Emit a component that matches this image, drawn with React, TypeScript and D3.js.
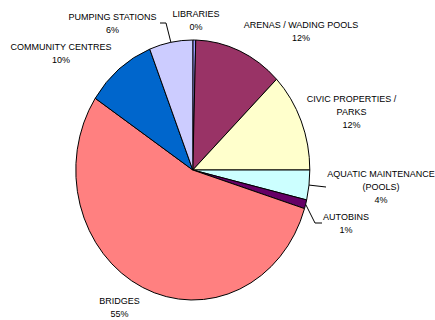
import React from 'react';
import * as d3 from 'd3';

// ---- data ----
const categories = [
  'LIBRARIES',
  'ARENAS / WADING POOLS',
  'CIVIC PROPERTIES / PARKS',
  'AQUATIC MAINTENANCE (POOLS)',
  'AUTOBINS',
  'BRIDGES',
  'COMMUNITY CENTRES',
  'PUMPING STATIONS',
];
const values = [0.4, 12.3, 12.3, 3.7, 1.1, 54.5, 9.7, 6.0];
const percentLabels = ['0%', '12%', '12%', '4%', '1%', '55%', '10%', '6%'];
const labelLines = [
  ['LIBRARIES'],
  ['ARENAS / WADING POOLS'],
  ['CIVIC PROPERTIES /', 'PARKS'],
  ['AQUATIC MAINTENANCE', '(POOLS)'],
  ['AUTOBINS'],
  ['BRIDGES'],
  ['COMMUNITY CENTRES'],
  ['PUMPING STATIONS'],
];

// ---- styles / layout ----
const colors = ['#9999FF', '#993366', '#FFFFCC', '#CCFFFF', '#660066', '#FF8080', '#0066CC', '#CCCCFF'];
const W = 435;
const H = 320;
const cx = 192.8;
const cy = 170;
const rx = 117;
const ry = 130;
const lineH = 13;
// label anchor (centre x, first baseline y) and optional leader bend points
const labelLayout: { x: number; y: number; leader?: [number, number][] }[] = [
  { x: 196, y: 17 },
  { x: 301, y: 28 },
  { x: 351.5, y: 101.8 },
  { x: 381, y: 177, leader: [[326, 187]] },
  { x: 346, y: 220, leader: [[315, 223], [322, 223]] },
  { x: 119.5, y: 304 },
  { x: 61, y: 49.5 },
  { x: 112.5, y: 20, leader: [[166, 23], [160, 23]] },
];

export default function App() {
  const pie = d3
    .pie<number>()
    .sort(null)
    .value((d) => d)
    .startAngle(0)
    .endAngle(2 * Math.PI);
  const arcs = pie(values);
  const arc = d3.arc<d3.PieArcDatum<number>>().innerRadius(0).outerRadius(rx);

  const edgePoint = (a: d3.PieArcDatum<number>): [number, number] => {
    const m = (a.startAngle + a.endAngle) / 2;
    return [cx + rx * Math.sin(m), cy - ry * Math.cos(m)];
  };

  return (
    <svg
      width={W}
      height={H}
      style={{ position: 'absolute', left: 0, top: 0, background: '#fff' }}
      fontFamily="'Liberation Sans', Arial, sans-serif"
      fontSize={9}
    >
      <rect x={0} y={0} width={W} height={H} fill="#fff" />
      <g transform={`translate(${cx},${cy}) scale(1,${ry / rx})`}>
        {arcs.map((a, i) => (
          <path
            key={categories[i]}
            d={arc(a) || ''}
            fill={colors[i]}
            stroke="#000"
            strokeWidth={1}
            vectorEffect="non-scaling-stroke"
          />
        ))}
      </g>
      {arcs.map((a, i) => {
        const lay = labelLayout[i];
        if (!lay.leader) return null;
        const pts = [edgePoint(a), ...lay.leader];
        const line = d3.line()(pts as [number, number][]) || '';
        return <path key={'l' + i} d={line} fill="none" stroke="#000" strokeWidth={1} />;
      })}
      {categories.map((c, i) => {
        const lay = labelLayout[i];
        const lines = [...labelLines[i], percentLabels[i]];
        return (
          <text key={'t' + c} x={lay.x} y={lay.y} textAnchor="middle" fill="#000">
            {lines.map((s, j) => (
              <tspan key={j} x={lay.x} y={lay.y + j * lineH}>
                {s}
              </tspan>
            ))}
          </text>
        );
      })}
    </svg>
  );
}
